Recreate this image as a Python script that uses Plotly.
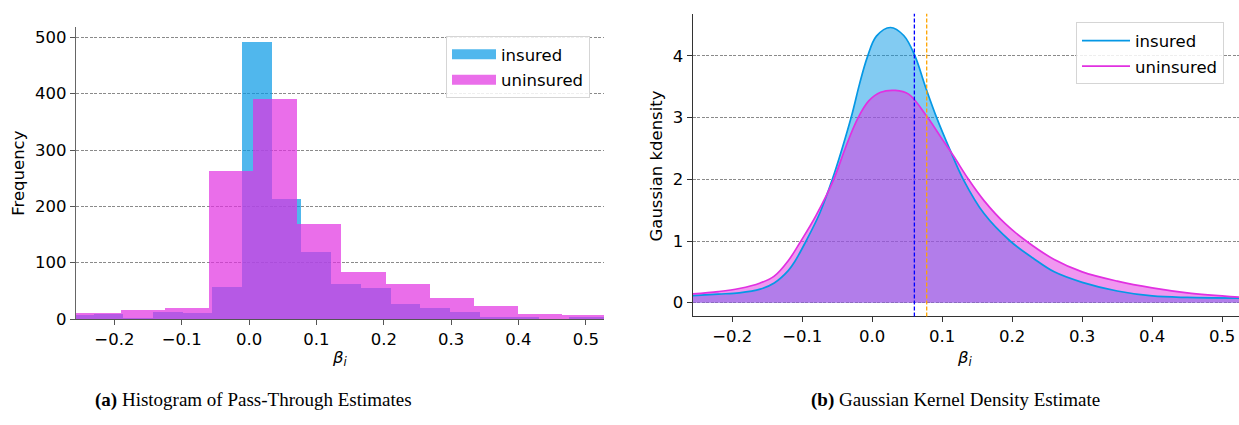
import plotly.graph_objects as go

# ---------------- data ----------------
x_tick_vals = [-0.2, -0.1, 0.0, 0.1, 0.2, 0.3, 0.4, 0.5]
x_tick_text = ["\u22120.2", "\u22120.1", "0.0", "0.1", "0.2", "0.3", "0.4", "0.5"]
hist_y_ticks = [0, 100, 200, 300, 400, 500]
kde_y_ticks = [0, 1, 2, 3, 4]

# histogram (a)
insured_bin_start = -0.2750
insured_bin_width = 0.0441
insured_counts = [8, 10, 2, 13, 11, 58, 492, 214, 120, 62, 56, 28, 21, 13, 4, 4, 0, 4, 4]

uninsured_bin_start = -0.2565
uninsured_bin_width = 0.0656
uninsured_counts = [11, 16, 20, 264, 392, 170, 84, 62, 38, 24, 10, 7]

# kernel density (b)
kde_insured_x = [-0.2565, -0.22, -0.19, -0.16, -0.14, -0.12, -0.11, -0.0945, -0.075, -0.057,
                 -0.043, -0.029, -0.018, -0.007, 0.006, 0.026, 0.045, 0.061, 0.076, 0.092,
                 0.111, 0.130, 0.160, 0.197, 0.23, 0.26, 0.30, 0.35, 0.40, 0.45, 0.524]
kde_insured_y = [0.115, 0.14, 0.16, 0.22, 0.32, 0.52, 0.68, 1.00, 1.45, 2.00,
                 2.50, 3.05, 3.55, 3.98, 4.32, 4.46, 4.33, 4.00, 3.50, 3.00,
                 2.48, 2.00, 1.44, 1.00, 0.72, 0.50, 0.33, 0.19, 0.11, 0.085, 0.075]

kde_uninsured_x = [-0.2565, -0.22, -0.19, -0.16, -0.14, -0.12, -0.103, -0.08, -0.055, -0.038,
                   -0.021, -0.005, 0.012, 0.033, 0.052, 0.078, 0.097, 0.116, 0.1375, 0.16,
                   0.19, 0.22, 0.26, 0.30, 0.35, 0.40, 0.45, 0.524]
kde_uninsured_y = [0.142, 0.18, 0.23, 0.32, 0.43, 0.68, 0.98, 1.42, 2.00, 2.52,
                   2.98, 3.27, 3.41, 3.44, 3.38, 3.02, 2.70, 2.38, 2.00, 1.65,
                   1.28, 1.00, 0.70, 0.50, 0.35, 0.24, 0.16, 0.09]

mean_insured = 0.0602
mean_uninsured = 0.0778

# ---------------- styling ----------------
W, H = 1239, 425
FONT = "DejaVu Sans"
FS = 16.5
C_INS = (5, 152, 229)
C_UN = (225, 48, 225)


def rgba(c, a):
    return "rgba(%d,%d,%d,%s)" % (c[0], c[1], c[2], a)


def blend_white(c, a):
    return "rgb(%d,%d,%d)" % tuple(round(a * v + (1 - a) * 255) for v in c)


def px_x(p):
    return p / W


def px_y(p):
    return 1 - p / H


fig = go.Figure()

# ---- histogram bars ----
ins_centers = [insured_bin_start + insured_bin_width * (i + 0.5) for i in range(len(insured_counts))]
un_centers = [uninsured_bin_start + uninsured_bin_width * (i + 0.5) for i in range(len(uninsured_counts))]

fig.add_trace(go.Bar(x=ins_centers, y=insured_counts, width=insured_bin_width,
                     marker=dict(color=rgba(C_INS, 0.7), line=dict(width=0)),
                     showlegend=False, xaxis="x", yaxis="y"))
fig.add_trace(go.Bar(x=un_centers, y=uninsured_counts, width=uninsured_bin_width,
                     marker=dict(color=rgba(C_UN, 0.7), line=dict(width=0)),
                     showlegend=False, xaxis="x", yaxis="y"))

# legend swatches for histogram
fig.add_trace(go.Scatter(x=[None], y=[None], mode="lines", name="insured",
                         line=dict(color=blend_white(C_INS, 0.7), width=13),
                         legend="legend", legendgroup="a1", xaxis="x", yaxis="y"))
fig.add_trace(go.Scatter(x=[None], y=[None], mode="lines", name="uninsured",
                         line=dict(color=blend_white(C_UN, 0.7), width=13),
                         legend="legend", legendgroup="a2", xaxis="x", yaxis="y"))

# ---- KDE fills ----
fig.add_trace(go.Scatter(x=kde_insured_x, y=kde_insured_y, mode="lines",
                         line=dict(width=0, shape="spline", color=rgba(C_INS, 0)),
                         fill="tozeroy", fillcolor=rgba(C_INS, 0.5),
                         showlegend=False, xaxis="x2", yaxis="y2", hoverinfo="skip"))
fig.add_trace(go.Scatter(x=kde_uninsured_x, y=kde_uninsured_y, mode="lines",
                         line=dict(width=0, shape="spline", color=rgba(C_UN, 0)),
                         fill="tozeroy", fillcolor=rgba(C_UN, 0.5),
                         showlegend=False, xaxis="x2", yaxis="y2", hoverinfo="skip"))
# ---- KDE lines ----
fig.add_trace(go.Scatter(x=kde_insured_x, y=kde_insured_y, mode="lines", name="insured",
                         line=dict(width=1.7, shape="spline", color=rgba(C_INS, 1)),
                         legend="legend2", legendgroup="b1", xaxis="x2", yaxis="y2"))
fig.add_trace(go.Scatter(x=kde_uninsured_x, y=kde_uninsured_y, mode="lines", name="uninsured",
                         line=dict(width=1.7, shape="spline", color=rgba(C_UN, 1)),
                         legend="legend2", legendgroup="b2", xaxis="x2", yaxis="y2"))

# vertical mean lines
fig.add_shape(type="line", xref="x2", yref="y2 domain", x0=mean_insured, x1=mean_insured,
              y0=0, y1=1, line=dict(color="#0000ff", width=1.3, dash="4px,2px"))
fig.add_shape(type="line", xref="x2", yref="y2 domain", x0=mean_uninsured, x1=mean_uninsured,
              y0=0, y1=1, line=dict(color="#ffa500", width=1.3, dash="4px,2px"))

axis_common = dict(
    showgrid=False, zeroline=False, showline=True, linewidth=1.2,
    ticks="outside", ticklen=5, tickwidth=1.1,
    tickfont=dict(family=FONT, size=FS, color="#000"),
)
grid_common = dict(showgrid=True, gridcolor="#8a8a8a", gridwidth=0.9, griddash="3px,1.5px")

fig.update_layout(
    width=W, height=H,
    margin=dict(l=0, r=0, t=0, b=0),
    paper_bgcolor="white", plot_bgcolor="white",
    barmode="overlay", bargap=0,
    font=dict(family=FONT, size=FS, color="#000"),
    xaxis=dict(domain=[px_x(76), px_x(604)], range=[-0.257, 0.527], anchor="y",
               tickvals=x_tick_vals, ticktext=x_tick_text,
               linecolor="#555", tickcolor="#555", **axis_common),
    yaxis=dict(domain=[px_y(326.7), px_y(27.3)], range=[0, 519], anchor="x",
               tickvals=hist_y_ticks, linecolor="#666", tickcolor="#555",
               **{**axis_common, **grid_common}),
    xaxis2=dict(domain=[px_x(692.7), 1.0], range=[-0.2565, 0.524], anchor="y2",
                tickvals=x_tick_vals, ticktext=x_tick_text,
                linecolor="#333", tickcolor="#333", **axis_common),
    yaxis2=dict(domain=[px_y(324), px_y(14)], range=[-0.2215, 4.684], anchor="x2",
                tickvals=kde_y_ticks, linecolor="#333", tickcolor="#333",
                **{**axis_common, **grid_common}),
    legend=dict(x=px_x(446), y=px_y(37), xanchor="left", yanchor="top",
                bgcolor="rgba(255,255,255,0.85)", bordercolor="#d5d5d5", borderwidth=1,
                font=dict(family=FONT, size=FS), tracegroupgap=1, traceorder="grouped",
                itemwidth=44),
    legend2=dict(x=px_x(1076), y=px_y(23), xanchor="left", yanchor="top",
                 bgcolor="rgba(255,255,255,0.85)", bordercolor="#d5d5d5", borderwidth=1,
                 font=dict(family=FONT, size=FS), tracegroupgap=1, traceorder="grouped",
                 itemwidth=48),
    showlegend=True,
)

annotations = [
    dict(text="Frequency", x=px_x(19), y=px_y(178), textangle=-90),
    dict(text="Gaussian kdensity", x=px_x(655.5), y=px_y(170), textangle=-90),
    dict(text="<i>\u03b2</i><sub><i>i</i></sub>", x=px_x(340), y=px_y(367)),
    dict(text="<i>\u03b2</i><sub><i>i</i></sub>", x=px_x(965), y=px_y(367)),
]
for a in annotations:
    fig.add_annotation(xref="paper", yref="paper", showarrow=False,
                       xanchor="center", yanchor="middle",
                       font=dict(family=FONT, size=FS, color="#000"), **a)

captions = [
    ("<b>(a)</b> Histogram of Pass-Through Estimates", 253),
    ("<b>(b)</b> Gaussian Kernel Density Estimate", 955),
]
for txt, cx in captions:
    fig.add_annotation(xref="paper", yref="paper", showarrow=False, text=txt,
                       x=px_x(cx), y=px_y(410), xanchor="center", yanchor="middle",
                       font=dict(family="Liberation Serif", size=19, color="#000"))

fig.write_html("out.html")
